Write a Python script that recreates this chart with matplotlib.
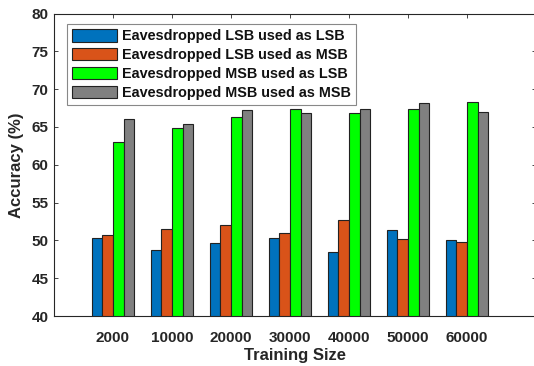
import numpy as np
import matplotlib
matplotlib.use('Agg')
import matplotlib.pyplot as plt

# training sizes and accuracy (%) for each eavesdropping case
sizes = ['2000', '10000', '20000', '30000', '40000', '50000', '60000']
lsb_as_lsb = [50.3, 48.7, 49.6, 50.3, 48.4, 51.4, 50.1]
lsb_as_msb = [50.7, 51.5, 52.0, 51.0, 52.7, 50.2, 49.8]
msb_as_lsb = [63.0, 64.8, 66.3, 67.4, 66.9, 67.4, 68.3]
msb_as_msb = [66.1, 65.4, 67.3, 66.9, 67.4, 68.1, 67.0]

labels = ['Eavesdropped LSB used as LSB', 'Eavesdropped LSB used as MSB',
          'Eavesdropped MSB used as LSB', 'Eavesdropped MSB used as MSB']
colors = ['#0072BD', '#D95319', '#00FF00', '#808080']

plt.rcParams['font.family'] = ['Liberation Sans', 'DejaVu Sans']
plt.rcParams['font.weight'] = 'bold'

W, H = 534, 366
fig = plt.figure(figsize=(W / 100, H / 100), dpi=100)
ax = fig.add_axes([54 / W, (H - 316) / H, 482 / W, 302.5 / H])

x = np.arange(1, len(sizes) + 1)
bw = 0.18
series = [lsb_as_lsb, lsb_as_msb, msb_as_lsb, msb_as_msb]
for i, (vals, c, lab) in enumerate(zip(series, colors, labels)):
    ax.bar(x + (i - 1.5) * bw, vals, bw, color=c, edgecolor='#222222',
           linewidth=0.8, label=lab, zorder=2)

ax.set_xlim(0, 482 / 59)
ax.set_ylim(40, 80)
ax.set_yticks(range(40, 81, 5))
ax.set_xticks(x)
ax.set_xticklabels(sizes)
ax.tick_params(direction='in', length=3, width=0.6, color='#262626',
               labelsize=11, labelcolor='#262626', top=True, right=True)
ax.tick_params(axis='x', pad=11)
ax.tick_params(axis='y', pad=4)
for s in ax.spines.values():
    s.set_color('#262626')
    s.set_linewidth(0.8)
ax.spines['right'].set_visible(False)

ax.set_xlabel('Training Size', fontsize=12, fontweight='bold', color='#262626', labelpad=2)
ax.set_ylabel('Accuracy (%)', fontsize=12, fontweight='bold', color='#262626', labelpad=5)

leg = ax.legend(loc='upper left', bbox_to_anchor=(67 / W, 1 - 24 / H),
                bbox_transform=fig.transFigure, borderaxespad=0,
                fontsize=10.4, handlelength=3.1, handleheight=0.95,
                handletextpad=0.35, labelspacing=0.32, borderpad=0.35,
                fancybox=False, framealpha=1, edgecolor='#888888')
leg.get_frame().set_linewidth(0.8)
for t in leg.get_texts():
    t.set_color('#111111')

fig.savefig('out.png', dpi=100)
